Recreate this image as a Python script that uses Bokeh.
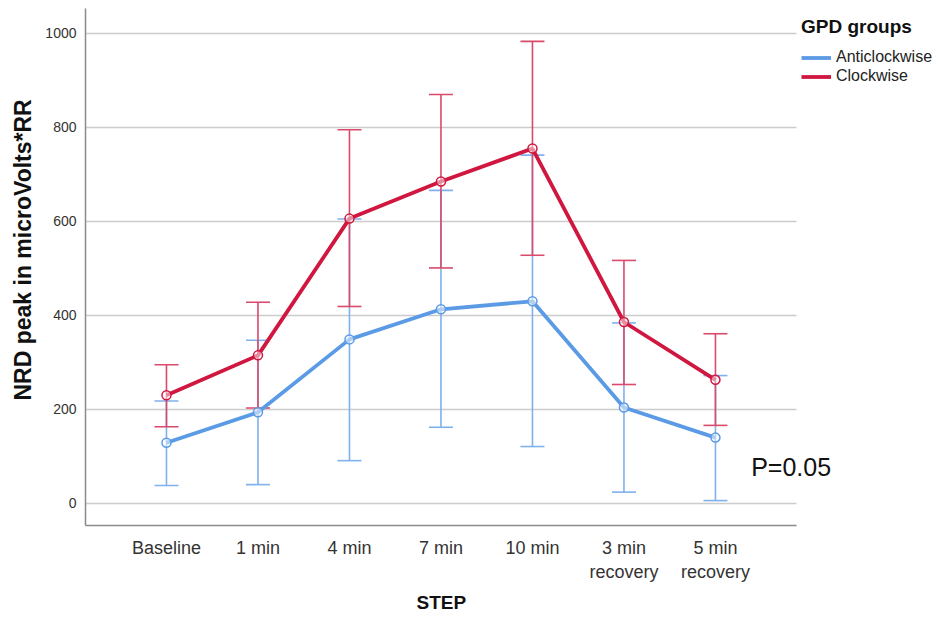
from bokeh.plotting import figure
from bokeh.models import (ColumnDataSource, Range1d, FixedTicker, Whisker, TeeHead,
                          Legend, LegendItem, Label, Title)
from bokeh.embed import file_html
from bokeh.resources import INLINE

steps = ["Baseline", "1 min", "4 min", "7 min", "10 min", "3 min\nrecovery", "5 min\nrecovery"]
x_idx = list(range(len(steps)))

anti_mean = [129, 194, 349, 413, 430, 204, 140]
anti_upper = [218, 347, 605, 666, 741, 384, 272]
anti_lower = [38, 40, 91, 162, 121, 24, 6]

clock_mean = [230, 315, 606, 685, 755, 386, 263]
clock_upper = [295, 428, 795, 870, 983, 517, 361]
clock_lower = [163, 203, 419, 501, 528, 253, 166]

y_ticks = [0, 200, 400, 600, 800, 1000]

BLUE = "#5b9be6"
BLUE_ERR = "#7fb1ec"
RED = "#d0173f"
RED_ERR = "#da4a6c"
FONT = "Liberation Sans"

X_LO, X_HI, X_EXT = -0.885, 6.885, 8.394

p = figure(frame_width=849, frame_height=517, output_backend="svg", toolbar_location=None,
           x_range=Range1d(X_LO, X_EXT), y_range=Range1d(-47, 1053),
           min_border_left=78, min_border_bottom=80, min_border_top=8, min_border_right=0)
p.outline_line_color = None
p.background_fill_color = "white"

src_a = ColumnDataSource(dict(x=x_idx, m=anti_mean, u=anti_upper, l=anti_lower))
src_c = ColumnDataSource(dict(x=x_idx, m=clock_mean, u=clock_upper, l=clock_lower))

for src, col in [(src_a, BLUE_ERR), (src_c, RED_ERR)]:
    w = Whisker(source=src, base="x", upper="u", lower="l", line_color=col, line_width=1.6,
                upper_head=TeeHead(size=24, line_color=col, line_width=1.6),
                lower_head=TeeHead(size=24, line_color=col, line_width=1.6))
    p.add_layout(w)

la = p.line("x", "m", source=src_a, line_color=BLUE, line_width=3.8)
lc = p.line("x", "m", source=src_c, line_color=RED, line_width=3.8)
p.scatter("x", "m", source=src_a, marker="circle", size=9, line_color=BLUE, line_width=1.5,
          fill_color="white", fill_alpha=0.5)
p.scatter("x", "m", source=src_c, marker="circle", size=9, line_color=RED, line_width=1.5,
          fill_color="white", fill_alpha=0.5)

# axes
p.xaxis.ticker = FixedTicker(ticks=x_idx)
p.xaxis.major_label_overrides = {i: s for i, s in zip(x_idx, steps)}
p.xaxis.bounds = (X_LO, X_HI)
p.yaxis.ticker = FixedTicker(ticks=y_ticks)
for ax in [p.xaxis[0], p.yaxis[0]]:
    ax.axis_line_color = "#8a8a8a"
    ax.axis_line_width = 1.5
    ax.major_tick_out = 0
    ax.major_tick_in = 0
    ax.minor_tick_out = 0
    ax.minor_tick_in = 0
    ax.major_label_text_font = FONT
    ax.major_label_text_color = "#333333"

p.xaxis.major_label_text_font_size = "18px"
p.xaxis.major_label_standoff = 12
p.yaxis.major_label_text_font_size = "14px"
p.yaxis.major_label_standoff = 9

# axis titles placed as side titles so they can be offset like the reference
p.add_layout(Title(text="STEP", align="left", offset=331, text_font=FONT,
                   text_font_size="19px", text_font_style="bold", text_color="#111111",
                   standoff=10), "below")
p.add_layout(Title(text="NRD peak in microVolts*RR", align="left", offset=125, text_font=FONT,
                   text_font_size="23px", text_font_style="bold", text_color="#111111",
                   standoff=14), "left")

p.xgrid.grid_line_color = None
p.ygrid.grid_line_color = "#cccccc"
p.ygrid.grid_line_width = 1.5
p.ygrid.cross_bounds = (X_LO, X_HI)

legend = Legend(items=[LegendItem(label="Anticlockwise", renderers=[la]),
                       LegendItem(label="Clockwise", renderers=[lc])],
                title="GPD groups", location=(716, 440))
legend.title_text_font = FONT
legend.title_text_font_style = "bold"
legend.title_text_font_size = "19px"
legend.title_text_color = "#111111"
legend.title_standoff = 10
legend.label_text_font = FONT
legend.label_text_font_size = "16px"
legend.label_text_color = "#222222"
legend.glyph_width = 30
legend.glyph_height = 17
legend.label_height = 17
legend.label_standoff = 5
legend.spacing = 1
legend.padding = 10
legend.margin = 0
legend.border_line_color = None
legend.background_fill_alpha = 0
p.add_layout(legend)

p.add_layout(Label(x=6.39, y=77, text="P=0.05", text_font=FONT, text_font_size="25px",
                   text_baseline="middle", text_align="left", text_color="#111111"))

open("out.html", "w").write(file_html(p, INLINE))
